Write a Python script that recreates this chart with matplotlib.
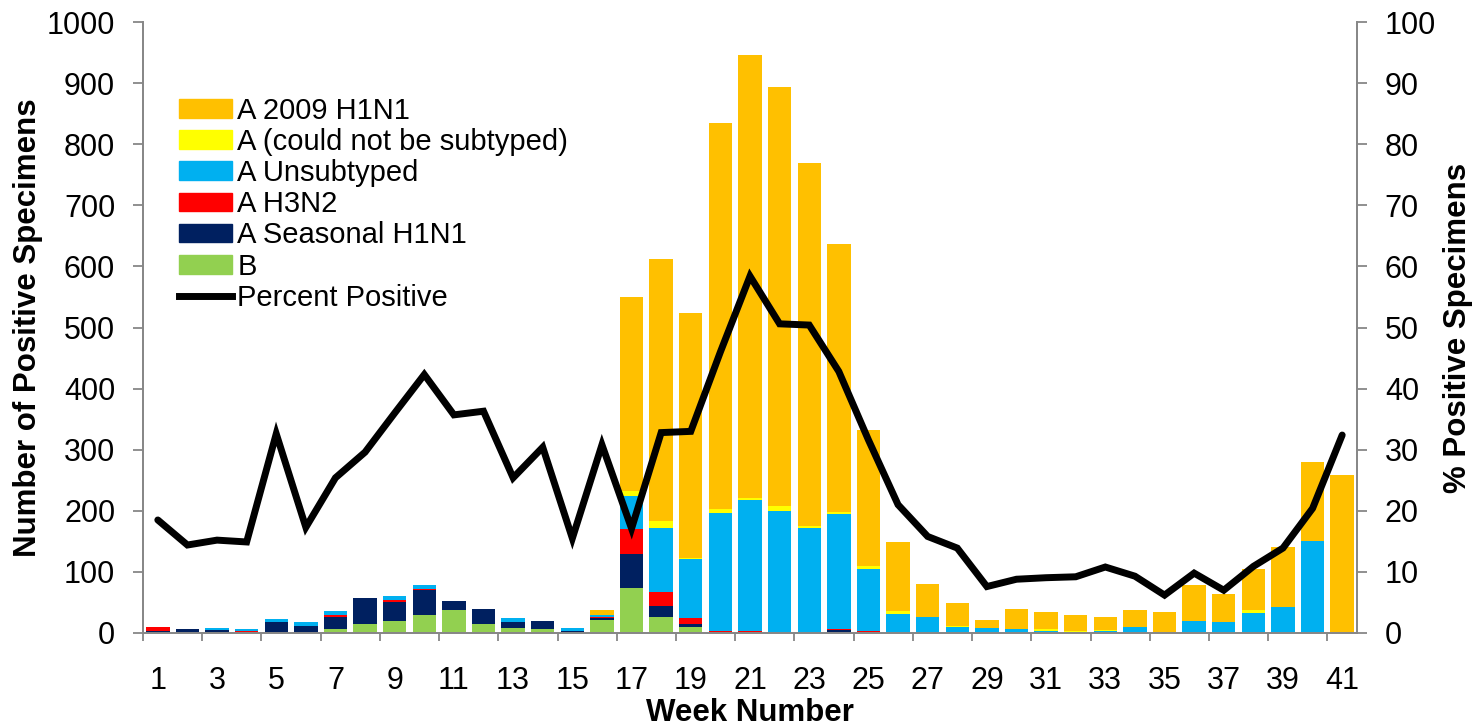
import numpy as np
import matplotlib
matplotlib.use('Agg')
import matplotlib.pyplot as plt
import matplotlib.patches as mpatches
from matplotlib.lines import Line2D

# ── Data ──────────────────────────────────────────────────────
weeks = list(range(1, 42))

b_vals = [0, 0, 0, 0, 0, 0, 7, 15, 19, 30, 37, 14, 9, 7, 1, 21, 74, 26, 10,
          0, 0, 0, 0, 0, 0, 0, 0, 0, 0, 0, 0, 0, 0, 0, 0, 0, 0, 0, 0, 0, 0]
seasonal_h1n1 = [4, 7, 5, 2, 18, 11, 19, 42, 32, 41, 15, 25, 9, 13, 2, 3, 56, 18, 5,
                 2, 0, 0, 0, 5, 0, 0, 0, 0, 0, 0, 0, 0, 0, 0, 0, 0, 0, 0, 0, 0, 0]
h3n2 = [6, 0, 0, 2, 0, 1, 4, 0, 3, 1, 0, 0, 0, 0, 0, 3, 41, 23, 9,
        2, 3, 0, 0, 1, 3, 0, 0, 0, 0, 0, 0, 0, 0, 0, 0, 0, 0, 2, 0, 0, 0]
unsubtyped = [0, 0, 4, 3, 5, 6, 6, 0, 6, 6, 0, 0, 6, 0, 6, 2, 53, 105, 97,
              192, 214, 200, 172, 188, 102, 31, 26, 10, 8, 6, 4, 1, 4, 10, 1, 20, 18, 30, 43, 150, 0]
not_subtyped = [0, 0, 0, 0, 0, 0, 0, 0, 0, 0, 0, 0, 0, 0, 0, 0, 9, 11, 1,
                7, 4, 8, 3, 4, 5, 5, 1, 1, 1, 1, 2, 2, 1, 0, 1, 0, 0, 5, 0, 0, 0]
h1n1_2009 = [0, 0, 0, 0, 0, 0, 0, 0, 0, 0, 0, 0, 0, 0, 0, 8, 317, 429, 402,
             632, 725, 686, 594, 439, 222, 113, 53, 38, 13, 32, 28, 26, 21, 27, 32, 59, 46, 68, 98, 130, 259]
pct_positive = [18.5, 14.4, 15.2, 14.9, 32.6, 17.3, 25.4, 29.6, 36.0, 42.3,
                35.7, 36.3, 25.4, 30.4, 15.5, 30.8, 17.1, 32.8, 33.0, 46.0,
                58.4, 50.6, 50.4, 42.8, 31.6, 21.0, 15.8, 13.9, 7.6, 8.8,
                9.05, 9.2, 10.8, 9.3, 6.2, 9.8, 7.0, 10.9, 13.9, 20.4, 32.4]

series = [
    ('B',                          b_vals,        '#92D050'),
    ('A Seasonal H1N1',            seasonal_h1n1, '#002060'),
    ('A H3N2',                     h3n2,          '#FF0000'),
    ('A Unsubtyped',               unsubtyped,    '#00B0F0'),
    ('A (could not be subtyped)',  not_subtyped,  '#FFFF00'),
    ('A 2009 H1N1',                h1n1_2009,     '#FFC000'),
]

# ── Style ─────────────────────────────────────────────────────
plt.rcParams['font.family'] = ['Liberation Sans', 'DejaVu Sans']
spine_col = '#878787'
tick_fs = 22
label_fs = 22.5

fig = plt.figure(figsize=(14.8, 7.27), dpi=100)
ax1 = fig.add_axes([143 / 1480, 1 - 633 / 727, 1214 / 1480, 611 / 727])
ax2 = ax1.twinx()

# ── Stacked bars ──────────────────────────────────────────────
bottom = np.zeros(len(weeks))
for name, vals, col in series:
    ax1.bar(weeks, vals, width=0.79, bottom=bottom, color=col, lw=0, zorder=2)
    bottom += np.array(vals)

# ── Percent positive line ─────────────────────────────────────
ax2.plot(weeks, pct_positive, color='black', lw=5,
         solid_joinstyle='miter', solid_capstyle='round', zorder=5)

# ── Axes ──────────────────────────────────────────────────────
ax1.set_xlim(0.5, 41.5)
ax1.set_ylim(0, 1000)
ax2.set_ylim(0, 100)
ax1.set_yticks(range(0, 1001, 100))
ax2.set_yticks(range(0, 101, 10))

ax1.set_xticks(weeks[::2])
ax1.set_xticklabels([str(w) for w in weeks[::2]])
ax1.set_xticks(np.arange(0.5, 42, 2), minor=True)
ax1.tick_params(axis='x', which='major', length=0, pad=24, labelsize=tick_fs)
ax1.tick_params(axis='x', which='minor', length=6, width=1.3,
                color=spine_col, direction='out')
ax1.tick_params(axis='y', length=7, width=1.3, color=spine_col,
                pad=13, labelsize=tick_fs)
ax2.tick_params(axis='y', length=7, width=1.3, color=spine_col,
                pad=13, labelsize=tick_fs)

for ax in (ax1, ax2):
    ax.spines['top'].set_visible(False)
    for s in ('left', 'right', 'bottom'):
        ax.spines[s].set_color(spine_col)
        ax.spines[s].set_linewidth(1.3)
    ax.set_facecolor('none')

ax1.set_xlabel('Week Number', fontsize=label_fs, fontweight='bold')
ax1.xaxis.set_label_coords(0.5, -0.107)
ax1.set_ylabel('Number of Positive Specimens', fontsize=label_fs, fontweight='bold')
ax1.yaxis.set_label_coords(-0.082, 0.5)
ax2.set_ylabel('% Positive Specimens', fontsize=label_fs, fontweight='bold')
ax2.yaxis.set_label_coords(1.071, 0.5)

# ── Legend ────────────────────────────────────────────────────
handles = [mpatches.Patch(color=col, label=name) for name, _, col in series[::-1]]
handles.append(Line2D([0], [0], color='black', lw=5, label='Percent Positive'))
ax2.legend(handles=handles, loc='upper left', bbox_to_anchor=(0.03, 0.878),
           frameon=False, fontsize=21, handlelength=1.8, handleheight=0.6,
           handletextpad=0.18, labelspacing=0.11, borderpad=0, borderaxespad=0)

fig.savefig('out.png', dpi=100)
plt.close(fig)
